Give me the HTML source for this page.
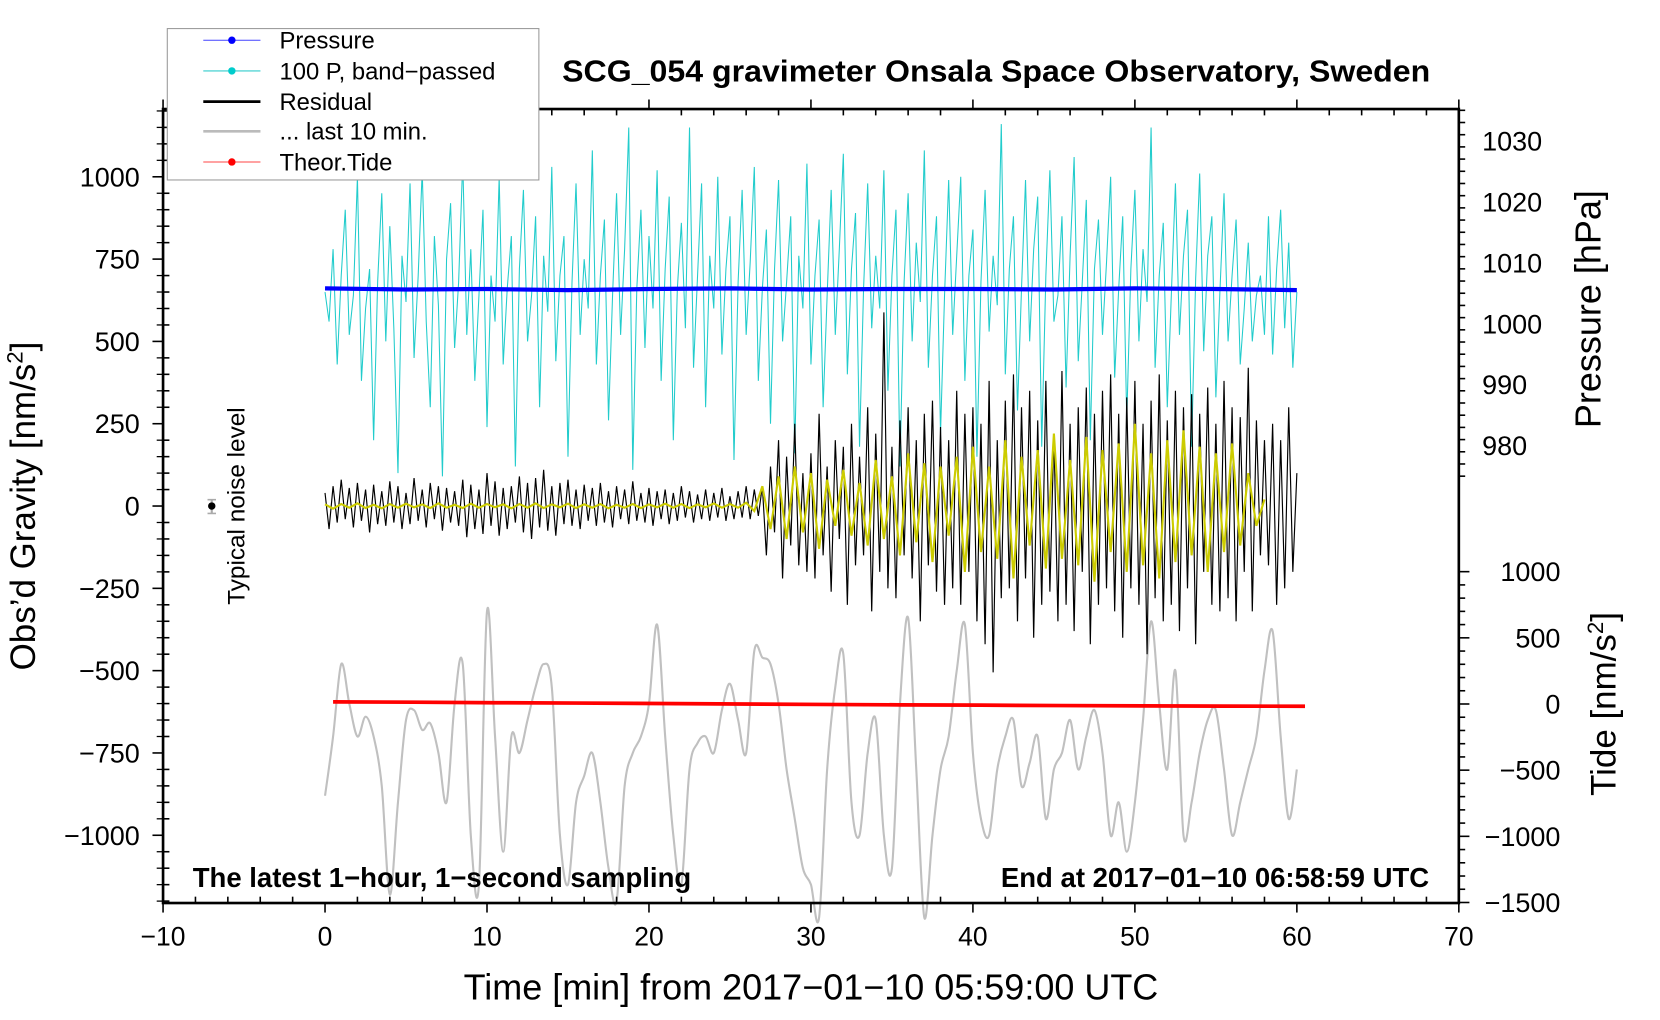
<!DOCTYPE html>
<html><head><meta charset="utf-8"><style>
html,body{margin:0;padding:0;background:#fff}
svg{display:block}
text{font-family:"Liberation Sans",Arial,sans-serif;fill:#000}
</style></head><body>
<svg id="chart" width="1660" height="1020" viewBox="0 0 1568 963.5" xmlns="http://www.w3.org/2000/svg">
<g id="series"></g>
<rect x="154" y="103" width="1224" height="750" fill="none" stroke="#000" stroke-width="2.5"/>
<g id="axes"></g>
<text x="941" y="77" font-size="28.5" font-weight="bold" text-anchor="middle" textLength="820" lengthAdjust="spacingAndGlyphs">SCG_054 gravimeter Onsala Space Observatory, Sweden</text>
<text transform="translate(33,478) rotate(-90)" font-size="33" text-anchor="middle">Obs’d Gravity [nm/s<tspan font-size="21" dy="-12">2</tspan><tspan dy="12">]</tspan></text>
<text transform="translate(1512,292) rotate(-90)" font-size="34" text-anchor="middle">Pressure [hPa]</text>
<text transform="translate(1526,665) rotate(-90)" font-size="33" text-anchor="middle">Tide [nm/s<tspan font-size="21" dy="-12">2</tspan><tspan dy="12">]</tspan></text>
<text x="766" y="944" font-size="34" text-anchor="middle">Time [min] from 2017−01−10 05:59:00 UTC</text>
<text x="182" y="838" font-size="26" font-weight="bold">The latest 1−hour, 1−second sampling</text>
<text x="1350" y="838" font-size="26" font-weight="bold" text-anchor="end">End at 2017−01−10 06:58:59 UTC</text>
<text transform="translate(231,478) rotate(-90)" font-size="23" text-anchor="middle">Typical noise level</text>
<line x1="200" y1="472" x2="200" y2="485" stroke="#aaa" stroke-width="2"/>
<line x1="196" y1="472" x2="204" y2="472" stroke="#aaa" stroke-width="1.5"/>
<line x1="196" y1="485" x2="204" y2="485" stroke="#aaa" stroke-width="1.5"/>
<circle cx="200" cy="478" r="3.5" fill="#000"/>
<g>
<rect x="158" y="27" width="351" height="143" fill="#fff" stroke="#999" stroke-width="1"/>
<g><line x1="192" y1="38" x2="246" y2="38" stroke="#44f" stroke-width="1"/><circle cx="219" cy="38" r="3.5" fill="#00f"/><text x="264" y="46" font-size="22.5">Pressure</text></g>
<g><line x1="192" y1="67" x2="246" y2="67" stroke="#3cc" stroke-width="1"/><circle cx="219" cy="67" r="3.5" fill="#0cc"/><text x="264" y="75" font-size="22.5">100 P, band−passed</text></g>
<g><line x1="192" y1="96" x2="246" y2="96" stroke="#000" stroke-width="2.5"/><text x="264" y="104" font-size="22.5">Residual</text></g>
<g><line x1="192" y1="124" x2="246" y2="124" stroke="#bbb" stroke-width="2.5"/><text x="264" y="132" font-size="22.5">... last 10 min.</text></g>
<g><line x1="192" y1="153" x2="246" y2="153" stroke="#f44" stroke-width="1"/><circle cx="219" cy="153" r="3.5" fill="#f00"/><text x="264" y="161" font-size="22.5">Theor.Tide</text></g>
</g>
</svg>
<script>
const xTicks=[-10,0,10,20,30,40,50,60,70];
const gTicks=[1000,750,500,250,0,-250,-500,-750,-1000];
const pTicks=[1030,1020,1010,1000,990,980];
const tTicks=[1000,500,0,-500,-1000,-1500];
const residual=[40,-70,60,-50,80,-40,55,-65,70,-45,50,-80,65,-55,45,-60,
75,-50,60,-70,40,-55,85,-45,50,-65,70,-40,60,-75,55,-50,
45,-60,80,-95,65,-70,50,-85,100,-60,75,-90,55,-70,60,-50,
90,-80,70,-100,85,-65,110,-75,60,-90,70,-55,80,-60,50,-70,
65,-45,55,-60,70,-50,45,-65,60,-40,50,-55,75,-45,40,-50,
55,-60,45,-40,50,-55,40,-45,60,-35,45,-50,35,-40,50,-45,
40,-35,55,-45,30,-40,45,-35,60,-40,50,-30,
60,-150,120,-80,200,-220,150,-120,250,-180,100,-200,160,-220,280,-150,
120,-260,200,-100,180,-300,250,-180,150,-150,300,-320,220,-200,588,-250,
180,-280,260,-150,300,-220,200,-350,280,-180,320,-260,240,-300,200,-250,
350,-300,280,-200,300,-350,250,-420,380,-505,200,-280,320,-250,400,-350,
300,-220,350,-400,260,-300,380,-260,220,-350,410,-300,250,-380,300,-200,
360,-420,280,-300,350,-250,400,-320,280,-400,330,-250,380,-300,250,-450,
320,-280,400,-350,260,-300,350,-380,300,-250,340,-420,280,-200,360,-300,
250,-320,380,-280,300,-350,270,-200,420,-320,260,-150,200,-180,250,-300,200,-250,300,-200,100];
const yellow=[5,-8,6,-5,8,-6,4,-7,6,-5,7,-4,5,-6,8,-5,4,-6,7,-5,6,-4,5,-7,6,-5,8,-6,
5,-4,7,-6,5,-5,6,-7,4,-5,6,-6,5,-4,7,-5,6,-6,5,-4,8,-5,6,-5,10,-15,
60,-70,90,-100,120,-80,100,-130,80,-60,110,-90,70,-120,140,-100,90,-150,160,-110,
130,-170,120,-90,150,-200,180,-140,120,-160,200,-220,150,-120,170,-190,220,-160,
140,-180,210,-230,170,-140,190,-200,250,-180,160,-220,200,-170,230,-150,180,-200,
160,-140,190,-120,100,-60,20];
const cyan=[650,560,780,430,700,900,520,640,1000,380,600,720,200,680,950,500,
850,540,100,760,620,980,450,700,1020,560,300,820,610,90,750,920,
480,680,1050,520,780,380,640,900,240,700,560,1000,430,660,820,120,
720,960,500,640,880,300,760,590,1030,440,700,820,150,680,980,520,
750,600,1080,430,700,870,260,640,950,520,780,1150,110,660,900,480,
820,600,1020,380,720,940,200,660,860,540,1150,420,700,980,300,760,
600,1000,460,720,880,140,680,960,520,740,1030,380,660,840,250,720,
990,500,680,880,160,760,600,1040,430,700,870,300,640,960,520,780,
1070,400,720,890,180,660,980,540,760,600,1020,350,700,900,120,680,
950,500,800,620,1080,420,700,880,220,640,990,520,760,1000,380,700,
840,150,680,960,530,760,610,1160,400,720,880,290,660,990,500,780,
940,180,700,1020,560,640,880,360,760,1060,440,680,930,200,720,870,
520,740,1000,390,660,880,260,720,960,500,780,620,1150,420,700,860,
300,640,980,520,760,900,180,690,1010,470,760,880,330,650,950,500,700,870,430,600,800,500,640,700,520,
880,460,720,900,540,800,420,650];
const grayT=[];for(let i=0;i<=120;i++)grayT.push(i*0.5);
const gray=[-880,-700,-480,-600,-700,-640,-700,-850,-1180,-900,-650,-620,-680,-660,-750,-900,-600,-480,-1000,-1150,
-320,-700,-1050,-700,-750,-650,-550,-480,-550,-1000,-1150,-900,-820,-750,-900,-1100,-1200,-850,-750,-700,
-600,-360,-700,-1000,-1150,-800,-720,-700,-750,-620,-540,-650,-750,-440,-460,-480,-600,-800,-950,-1100,
-1150,-1250,-800,-550,-450,-900,-1000,-750,-650,-1000,-1100,-600,-340,-800,-1250,-1000,-800,-700,-500,-360,
-750,-950,-1000,-800,-700,-650,-850,-780,-700,-950,-800,-750,-650,-800,-700,-620,-750,-1000,-900,-1050,
-900,-650,-350,-600,-800,-500,-1000,-900,-750,-650,-620,-800,-1000,-900,-800,-700,-500,-380,-700,-950,-800];
const pressure=[1005.8,1005.6,1005.7,1005.5,1005.7,1005.8,1005.6,1005.7,1005.7,1005.6,1005.8,1005.7,1005.5];
const tide=[16,14,10,7,4,0,-3,-6,-9,-12,-14,-16,-17];

const X=t=>307+(t)*15.3;
const Yg=v=>478-v*0.311;
const Yp=v=>133+(1030-v)*5.76;
const Yt=v=>665-v*0.125;
const NS="http://www.w3.org/2000/svg";
const series=document.getElementById('series');
const axes=document.getElementById('axes');
function mk(tag,parent,attrs){const e=document.createElementNS(NS,tag);for(const k in attrs)e.setAttribute(k,attrs[k]);parent.appendChild(e);return e;}
function lineD(ts,vs,fy){return vs.map((v,i)=>(i?'L':'M')+X(ts(i)).toFixed(1)+','+fy(v).toFixed(1)).join('');}
function smoothD(ts,vs,fy){const p=vs.map((v,i)=>[X(ts(i)),fy(v)]);let d='M'+p[0][0]+','+p[0][1];
 for(let i=0;i<p.length-1;i++){const p0=p[Math.max(0,i-1)],p1=p[i],p2=p[i+1],p3=p[Math.min(p.length-1,i+2)];
 d+='C'+(p1[0]+(p2[0]-p0[0])/6).toFixed(1)+','+(p1[1]+(p2[1]-p0[1])/6).toFixed(1)+' '+(p2[0]-(p3[0]-p1[0])/6).toFixed(1)+','+(p2[1]-(p3[1]-p1[1])/6).toFixed(1)+' '+p2[0].toFixed(1)+','+p2[1].toFixed(1);}
 return d;}

let e;
e=mk('path',series,{d:smoothD(i=>grayT[i],gray,Yg),fill:'none',stroke:'#c0c0c0','stroke-width':2});


e=mk('path',series,{d:lineD(i=>i*60/(cyan.length-1),cyan,Yg),fill:'none',stroke:'#22cccc','stroke-width':1});


e=mk('path',series,{d:lineD(i=>i*5,pressure,Yp),fill:'none',stroke:'#0000ff','stroke-width':4});


e=mk('path',series,{d:lineD(i=>i/4,residual,Yg),fill:'none',stroke:'#000','stroke-width':1.1});


e=mk('path',series,{d:lineD(i=>i/2,yellow,Yg),fill:'none',stroke:'#cccc00','stroke-width':2});


e=mk('path',series,{d:lineD(i=>0.5+i*5,tide,Yt),fill:'none',stroke:'#ff0000','stroke-width':3.5});



for(let t=-10;t<=70;t+=2){const maj=t%10===0;
 mk('line',axes,{x1:X(t),x2:X(t),y1:853,y2:853-(maj?0:6),stroke:'#000','stroke-width':1.5});
 mk('line',axes,{x1:X(t),x2:X(t),y1:103,y2:103+(maj?0:6),stroke:'#000','stroke-width':1.5});
 if(maj){mk('line',axes,{x1:X(t),x2:X(t),y1:853,y2:862,stroke:'#000','stroke-width':1.5});mk('line',axes,{x1:X(t),x2:X(t),y1:103,y2:94,stroke:'#000','stroke-width':1.5});}}
xTicks.forEach(t=>{e=mk('text',axes,{x:X(t),y:893,'font-size':25,'text-anchor':'middle'});e.textContent=String(t).replace('-','−');

});
for(let v=-1200;v<=1200;v+=50){const y=Yg(v);if(y<103||y>853)continue;const maj=v%250===0;
 mk('line',axes,{x1:maj?144:154,x2:maj?154:160,y1:y,y2:y,stroke:'#000','stroke-width':1.5});
 if(!maj)mk('line',axes,{x1:148,x2:154,y1:y,y2:y,stroke:'#000','stroke-width':1.2});}
gTicks.forEach(v=>{e=mk('text',axes,{x:132,y:Yg(v)+9,'font-size':25.5,'text-anchor':'end'});e.textContent=String(v).replace('-','−');

});
for(let v=1035;v>=975;v-=2){const y=Yp(v);if(y<103)continue;const maj=v%10===0;
 mk('line',axes,{x1:1378,x2:1378+(maj?10:6),y1:y,y2:y,stroke:'#000','stroke-width':1.5});}
pTicks.forEach(v=>{e=mk('text',axes,{x:1400,y:Yp(v)+9,'font-size':25.5});e.textContent=v;

});
for(let v=1000;v>=-1500;v-=100){const y=Yt(v);const maj=v%500===0;
 mk('line',axes,{x1:1378,x2:1378+(maj?10:6),y1:y,y2:y,stroke:'#000','stroke-width':1.5});}
tTicks.forEach(v=>{e=mk('text',axes,{x:1474,y:Yt(v)+9,'font-size':25.5,'text-anchor':'end'});e.textContent=String(v).replace('-','−');

});
</script>
</body></html>
